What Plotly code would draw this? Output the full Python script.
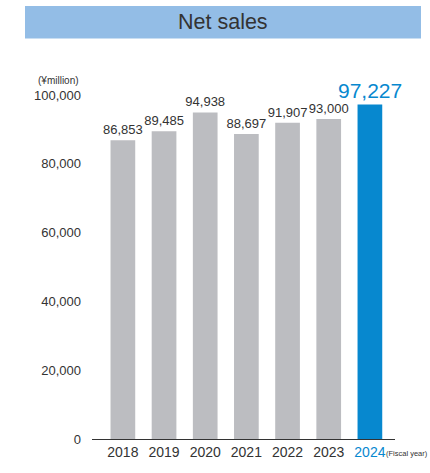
import plotly.graph_objects as go

years = ["2018", "2019", "2020", "2021", "2022", "2023", "2024"]
sales = [86853, 89485, 94938, 88697, 91907, 93000, 97227]
ytick_vals = [0, 20000, 40000, 60000, 80000, 100000]
ytick_text = ["0", "20,000", "40,000", "60,000", "80,000", "100,000"]

GRAY = "#bcbdc1"
BLUE = "#0788cf"
TEXT = "#333333"

colors = [BLUE if y == "2024" else GRAY for y in years]
x_idx = list(range(len(years)))

fig = go.Figure()
fig.add_trace(go.Bar(
    x=x_idx, y=sales, width=0.6, marker=dict(color=colors, line=dict(width=0)),
    text=[f"{v:,}" if y != "2024" else "" for y, v in zip(years, sales)],
    textposition="outside", cliponaxis=False, constraintext="none",
    textfont=dict(family="Liberation Sans, Arial", size=13, color=TEXT),
    hoverinfo="skip",
))

ticktext = [f'<span style="color:{BLUE}">{y}</span>' if y == "2024" else y for y in years]

fig.update_layout(
    width=430, height=473,
    margin=dict(l=92, r=35, t=95, b=34),
    paper_bgcolor="white", plot_bgcolor="white",
    showlegend=False, bargap=0.4,
    font=dict(family="Liberation Sans, Arial", color=TEXT),
    xaxis=dict(
        range=[-0.75, 6.61], tickmode="array", tickvals=x_idx, ticktext=ticktext,
        showline=True, linecolor=TEXT, linewidth=1, showgrid=False, zeroline=False,
        ticks="", tickfont=dict(size=14, color=TEXT), fixedrange=True,
    ),
    yaxis=dict(
        range=[0, 100000], tickmode="array", tickvals=ytick_vals, ticktext=ytick_text,
        showgrid=False, zeroline=False, showline=False, ticks="",
        tickfont=dict(size=13, color=TEXT), ticklabelstandoff=10, fixedrange=True,
    ),
    shapes=[dict(type="rect", xref="paper", yref="paper",
                 x0=(25 - 92) / 303, x1=(421 - 92) / 303,
                 y0=1 + (95 - 38.5) / 344, y1=1 + (95 - 6) / 344,
                 fillcolor="#93bde6", line=dict(width=0), layer="below")],
    annotations=[
        dict(text="Net sales", xref="paper", yref="paper",
             x=(223 - 92) / 303, y=1 + (95 - 22.5) / 344, showarrow=False,
             font=dict(size=21.5, color=TEXT), xanchor="center", yanchor="middle"),
        dict(text="(¥million)", xref="paper", yref="paper",
             x=(58 - 92) / 303, y=1 + (95 - 81) / 344, showarrow=False,
             font=dict(size=10, color=TEXT), xanchor="center", yanchor="middle"),
        dict(text=f"{sales[-1]:,}", x=6, y=sales[-1], xref="x", yref="y",
             yshift=14, showarrow=False, font=dict(size=21, color=BLUE),
             xanchor="center", yanchor="middle"),
        dict(text="(Fiscal year)", xref="paper", yref="paper",
             x=(384 - 92) / 303, y=-(453 - 439) / 344, showarrow=False,
             font=dict(size=7.5, color=TEXT),
             xanchor="left", yanchor="middle"),
    ],
)

fig.write_html("out.html")
